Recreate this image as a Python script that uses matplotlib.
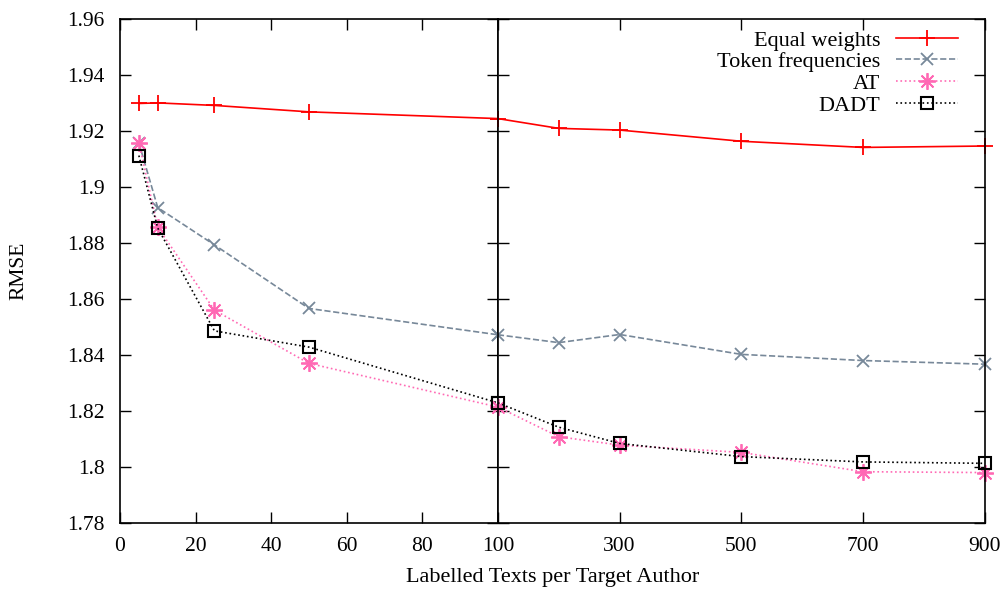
import numpy as np
import matplotlib.pyplot as plt
from matplotlib.ticker import FuncFormatter

plt.rcParams['font.family'] = ['Liberation Serif', 'DejaVu Serif']
plt.rcParams['font.size'] = 15.5

# data
texts = [5, 10, 25, 50, 100, 200, 300, 500, 700, 900]
equal_weights = [1.9298, 1.9300, 1.9291, 1.9268, 1.9244, 1.9209, 1.9203, 1.9163, 1.9141, 1.9146]
token_freq = [1.9158, 1.8926, 1.8793, 1.8566, 1.8472, 1.8444, 1.8473, 1.8402, 1.8380, 1.8367]
at = [1.9158, 1.8856, 1.8560, 1.8370, 1.8214, 1.8108, 1.8078, 1.8052, 1.7983, 1.7980]
dadt = [1.9112, 1.8853, 1.8486, 1.8428, 1.8229, 1.8142, 1.8084, 1.8037, 1.8018, 1.8013]

series = [
    ('Equal weights', equal_weights, dict(color='#ff0000', ls='-', marker='+', ms=12, mew=1.3)),
    ('Token frequencies', token_freq, dict(color='#778899', ls='--', marker='x', ms=9, mew=1.3)),
    ('AT', at, dict(color='#ff69b4', ls=':', marker=(8, 2, 0), ms=12, mew=1.3)),
    ('DADT', dadt, dict(color='black', ls=':', marker='s', ms=9, mew=1.5, mfc='none')),
]

fig = plt.figure(figsize=(10.08, 5.9), dpi=100)
gs = fig.add_gridspec(1, 2, width_ratios=[378, 487], wspace=0,
                      left=0.119, right=0.977, top=0.968, bottom=0.1136)
ax1 = fig.add_subplot(gs[0])
ax2 = fig.add_subplot(gs[1], sharey=ax1)

x = np.array(texts)
for label, vals, st in series:
    v = np.array(vals)
    m1 = x <= 100
    m2 = x >= 100
    ax1.plot(x[m1], v[m1], lw=1.2, clip_on=False, **st)
    ax2.plot(x[m2], v[m2], lw=1.2, clip_on=False, label=label, **st)

ax1.set_xlim(0, 100)
ax2.set_xlim(100, 900)
ax1.set_ylim(1.78, 1.96)
ax1.set_yticks(np.arange(1.78, 1.9601, 0.02))
ax1.yaxis.set_major_formatter(FuncFormatter(lambda v, p: ('%.2f' % v).rstrip('0').rstrip('.')))
ax1.set_xticks([0, 20, 40, 60, 80, 100])
ax2.set_xticks([100, 300, 500, 700, 900])
ax2.set_xticklabels(['', '300', '500', '700', '900'])

for ax in (ax1, ax2):
    ax.tick_params(direction='in', length=8, width=1, top=True, right=True, left=True)
    ax.tick_params(axis='y', pad=11)
    ax.tick_params(axis='x', pad=10)
    for s in ax.spines.values():
        s.set_linewidth(1.2)
ax2.tick_params(labelleft=False)

fig.text(0.019, (0.968 + 0.1136) / 2, 'RMSE', rotation=90, ha='center', va='center')
fig.text((0.119 + 0.977) / 2, 0.021, 'Labelled Texts per Target Author', ha='center', va='center',
         fontsize=16)

ax2.legend(loc='upper right', frameon=False, markerfirst=False, handlelength=2.8,
           handletextpad=0.7, borderaxespad=0.0, borderpad=0.0, labelspacing=0.05,
           bbox_to_anchor=(0.945, 0.978), fontsize=16)

fig.savefig('out.png', dpi=100)
